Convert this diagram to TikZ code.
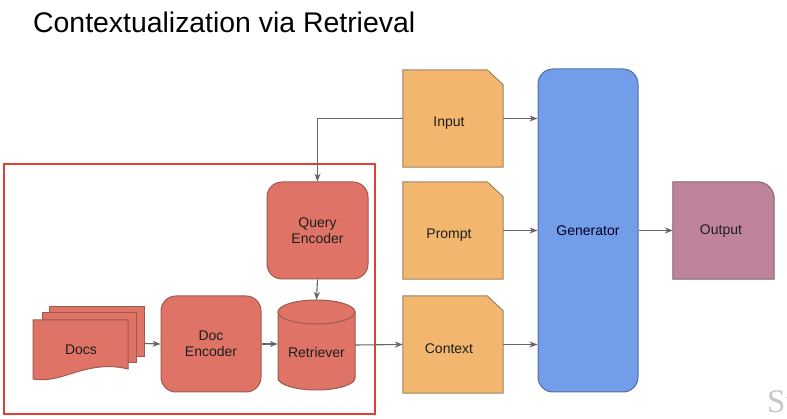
\documentclass[tikz,border=0pt]{standalone}
\usepackage{fontspec}
\setmainfont{Liberation Sans}
\newfontfamily\logofont{Liberation Serif}
\usetikzlibrary{arrows.meta,backgrounds}
\definecolor{redfill}{HTML}{DF7366}
\definecolor{redline}{HTML}{9C5A52}
\definecolor{orafill}{HTML}{F2B66F}
\definecolor{oraline}{HTML}{9E8262}
\definecolor{bluefill}{HTML}{739DE8}
\definecolor{blueline}{HTML}{4F6FA5}
\definecolor{magfill}{HTML}{BF849C}
\definecolor{magline}{HTML}{7E6470}
\definecolor{framered}{HTML}{DC4332}
\definecolor{arrgray}{HTML}{666666}
\definecolor{txt}{HTML}{1E1E1E}
\begin{document}
\begin{tikzpicture}[x=1pt,y=-1pt,
  lbl/.style={font=\fontsize{14}{16}\selectfont, text=txt, align=center, inner sep=0pt},
  slot/.style={lbl, minimum width=#1, minimum height=97pt},
  redbox/.style={draw=redline, fill=redfill, line width=1pt, rounded corners=15pt, lbl, minimum width=101pt, minimum height=97pt},
  orashape/.style={draw=oraline, fill=orafill, line width=1pt},
  redshape/.style={draw=redline, fill=redfill, line width=1pt},
  arr/.style={draw=arrgray, line width=1.1pt, -{Stealth[length=8pt,width=6pt]}}]
\path[use as bounding box, fill=white] (0,0) rectangle (787,419);

% title
\node[anchor=base west, inner sep=0pt, font=\fontsize{28.4}{32}\selectfont] (title) at (33,33) {Contextualization via Retrieval};

% watermark (cut by the right edge, as in the original)
\begin{scope}
\clip (0,0) rectangle (787,419);
\node[anchor=base west, inner sep=0pt, text=black!22, font=\logofont\fontsize{33}{36}\selectfont] (logo) at (767,413) {St};
\end{scope}

% red frame
\draw[framered, line width=2pt] (4,164) rectangle (375,414);

% retrieval side
\node[redbox] (qenc) at (317.5,230.5) {Query\\Encoder};
\node[redbox, minimum width=100pt, minimum height=96pt] (denc) at (211,344) {Doc\\Encoder};

% retriever cylinder
\node[minimum width=77pt, minimum height=90pt, inner sep=0pt] (ret) at (316.5,345) {};
\path[redshape] (278,312) -- (278,378) .. controls (278,384.6) and (295.3,390) .. (316.5,390)
  .. controls (337.7,390) and (355,384.6) .. (355,378) -- (355,312) -- cycle;
\path[redshape] (316.5,312) ellipse[x radius=38.5, y radius=12];
\node[lbl] (retlabel) at (316.5,352.5) {Retriever};

% docs stack
\node[minimum width=111pt, minimum height=73pt, inner sep=0pt] (docs) at (88.5,343.5) {};
\path[redshape] (49,307) rectangle (144,357);
\path[redshape] (42,313) rectangle (136,363);
\path[redshape] (33,320) -- (128,320) -- (128,369) .. controls (100,362) and (78,372) .. (60,377)
  .. controls (50,380) and (40,380) .. (33,379) -- cycle;
\node[lbl] (docslabel) at (81,349.5) {Docs};

% input / prompt / context
\node[slot=100pt] (inp) at (453,118.5) {};
\node[slot=100pt] (prm) at (453,230.5) {};
\node[slot=100pt] (ctx) at (453,344.5) {};
\foreach \n in {inp,prm,ctx}{
  \path[orashape] (\n.south west) -- (\n.north west) -- ([xshift=-16pt]\n.north east)
    -- ([yshift=-15pt]\n.north east) -- (\n.south east) -- cycle;
}
\node[lbl] (inplabel) at (449,123) {Input};
\node[lbl] (prmlabel) at (449,235) {Prompt};
\node[lbl] (ctxlabel) at (449,349) {Context};

% generator
\node[draw=blueline, fill=bluefill, line width=1pt, rounded corners=15pt, lbl, text=black!85!blue,
  minimum width=100pt, minimum height=323pt] (gen) at (588,230.5) {Generator};

% output
\node[slot=101pt] (out) at (723.5,230.5) {};
\path[draw=magline, fill=magfill, line width=1pt] (out.south west) -- (out.north west)
  -- ([xshift=-17pt]out.north east) .. controls ([xshift=-7.6pt]out.north east) and ([yshift=-7.6pt]out.north east) .. ([yshift=-17pt]out.north east)
  -- (out.south east) -- cycle;
\node[lbl] (outlabel) at (721,231) {Output};

% connectors
\draw[arr] (inp.west) -| (qenc.north);
\draw[arr] (qenc.south) -- (ret.north);
\draw[arr] (docs.east) -- (denc.west);
\draw[arr] (denc.east) -- (denc.east -| ret.west);
\draw[arr] (ret.east) -- (ctx.west);
\draw[arr] (inp.east) -- (inp.east -| gen.west);
\draw[arr] (prm.east) -- (prm.east -| gen.west);
\draw[arr] (ctx.east) -- (ctx.east -| gen.west);
\draw[arr] (gen.east) -- (out.west);
\end{tikzpicture}
\end{document}
